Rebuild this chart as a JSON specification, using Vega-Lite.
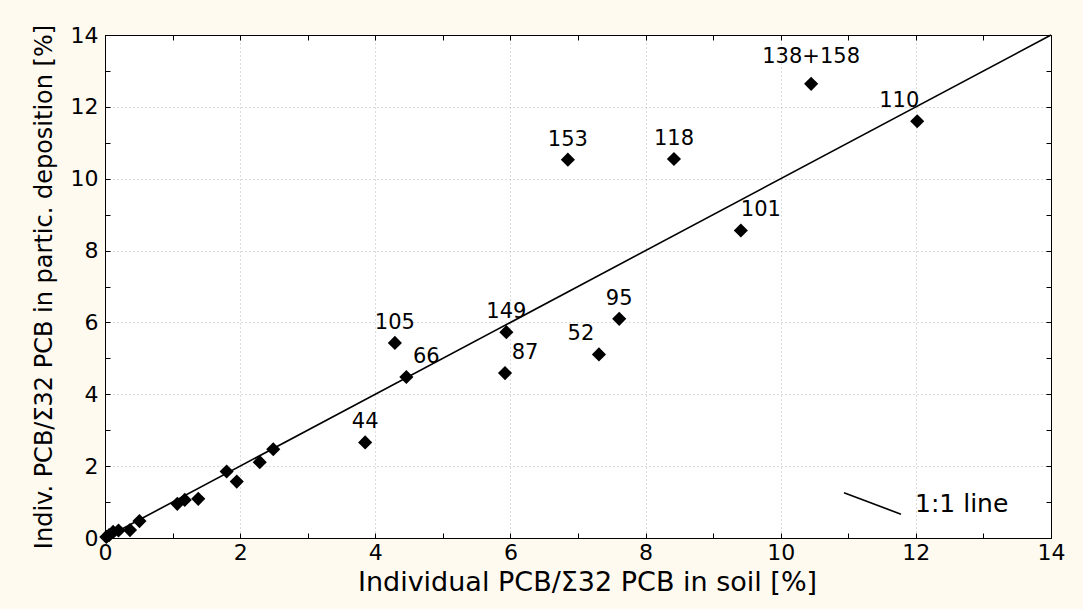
{
  "$schema": "https://vega.github.io/schema/vega-lite/v6.json",
  "width": 946,
  "height": 503,
  "autosize": {"type": "none"},
  "padding": {"left": 105, "top": 35, "right": 32, "bottom": 71},
  "background": "#FFFAF0",
  "config": {
    "view": {"stroke": "black", "strokeWidth": 1, "fill": "white"},
    "font": "DejaVu Sans",
    "axis": {
      "labelFont": "DejaVu Sans",
      "titleFont": "DejaVu Sans",
      "labelColor": "black",
      "titleColor": "black",
      "domainColor": "black",
      "tickColor": "black",
      "titleFontWeight": "normal"
    }
  },
  "datasets": {
    "pts": [
      {"soil": 0.02, "dep": 0.03, "label": "", "pos": "none"},
      {"soil": 0.06, "dep": 0.08, "label": "", "pos": "none"},
      {"soil": 0.12, "dep": 0.17, "label": "", "pos": "none"},
      {"soil": 0.2, "dep": 0.21, "label": "", "pos": "none"},
      {"soil": 0.37, "dep": 0.22, "label": "", "pos": "none"},
      {"soil": 0.51, "dep": 0.47, "label": "", "pos": "none"},
      {"soil": 1.07, "dep": 0.95, "label": "", "pos": "none"},
      {"soil": 1.18, "dep": 1.06, "label": "", "pos": "none"},
      {"soil": 1.38, "dep": 1.09, "label": "", "pos": "none"},
      {"soil": 1.8, "dep": 1.85, "label": "", "pos": "none"},
      {"soil": 1.95, "dep": 1.57, "label": "", "pos": "none"},
      {"soil": 2.29, "dep": 2.11, "label": "", "pos": "none"},
      {"soil": 2.49, "dep": 2.47, "label": "", "pos": "none"},
      {"soil": 3.85, "dep": 2.66, "label": "44", "pos": "above"},
      {"soil": 4.29, "dep": 5.43, "label": "105", "pos": "above"},
      {"soil": 4.46, "dep": 4.48, "label": "66", "pos": "right"},
      {"soil": 5.92, "dep": 4.59, "label": "87", "pos": "right"},
      {"soil": 5.94, "dep": 5.73, "label": "149", "pos": "above"},
      {"soil": 6.85, "dep": 10.53, "label": "153", "pos": "above"},
      {"soil": 7.31, "dep": 5.11, "label": "52", "pos": "left"},
      {"soil": 7.61, "dep": 6.1, "label": "95", "pos": "above"},
      {"soil": 8.42, "dep": 10.55, "label": "118", "pos": "above"},
      {"soil": 9.41, "dep": 8.56, "label": "101", "pos": "right"},
      {"soil": 10.45, "dep": 12.64, "label": "138+158", "pos": "high"},
      {"soil": 12.02, "dep": 11.6, "label": "110", "pos": "left"}
    ]
  },
  "encoding": {
    "x": {"field": "soil", "type": "quantitative", "axis": null, "scale": {"domain": [0, 14], "nice": false, "zero": false}},
    "y": {"field": "dep", "type": "quantitative", "axis": null, "scale": {"domain": [0, 14], "nice": false, "zero": false}}
  },
  "layer": [
    {
      "data": {"name": "pts"},
      "mark": {"type": "point", "shape": "diamond", "filled": true, "size": 200, "color": "black", "opacity": 1},
      "encoding": {
        "x": {
          "field": "soil", "type": "quantitative",
          "scale": {"domain": [0, 14], "nice": false, "zero": false},
          "axis": {
            "orient": "bottom",
            "title": "Individual PCB/Σ32 PCB in soil [%]",
            "titleFontSize": 27,
            "titlePadding": 6,
            "titleX": 482,
            "values": [0,1,2,3,4,5,6,7,8,9,10,11,12,13,14],
            "labelExpr": "datum.value % 2 === 0 ? datum.label : ''",
            "labelFontSize": 22,
            "labelPadding": 9,
            "labelFlush": false,
            "labelOverlap": false,
            "tickSize": -5,
            "grid": true,
            "gridColor": "#b8b8b8",
            "gridDash": [1, 3],
            "gridOpacity": {"condition": {"test": "datum.value % 2 === 0 && datum.value > 0 && datum.value < 14", "value": 1}, "value": 0}
          }
        },
        "y": {
          "field": "dep", "type": "quantitative",
          "scale": {"domain": [0, 14], "nice": false, "zero": false},
          "axis": {
            "orient": "left",
            "title": "Indiv. PCB/Σ32 PCB in partic. deposition [%]",
            "titleFontSize": 24,
            "titlePadding": 14,
            "values": [0,1,2,3,4,5,6,7,8,9,10,11,12,13,14],
            "labelExpr": "datum.value % 2 === 0 ? datum.label : ''",
            "labelFontSize": 22,
            "labelPadding": 12,
            "labelFlush": false,
            "labelOverlap": false,
            "tickSize": -5,
            "grid": true,
            "gridColor": "#b8b8b8",
            "gridDash": [1, 3],
            "gridOpacity": {"condition": {"test": "datum.value % 2 === 0 && datum.value > 0 && datum.value < 14", "value": 1}, "value": 0}
          }
        }
      }
    },
    {
      "data": {"values": [
        {"soil": 0, "dep": 0, "series": "1:1 line"},
        {"soil": 14, "dep": 14, "series": "1:1 line"}
      ]},
      "mark": {"type": "line", "strokeWidth": 1.6},
      "encoding": {
        "x": {
          "field": "soil", "type": "quantitative",
          "scale": {"domain": [0, 14], "nice": false, "zero": false},
          "axis": {"orient": "top", "title": null, "labels": false, "grid": false, "tickSize": -5, "values": [0,1,2,3,4,5,6,7,8,9,10,11,12,13,14]}
        },
        "y": {
          "field": "dep", "type": "quantitative",
          "scale": {"domain": [0, 14], "nice": false, "zero": false},
          "axis": {"orient": "right", "title": null, "labels": false, "grid": false, "tickSize": -5, "values": [0,1,2,3,4,5,6,7,8,9,10,11,12,13,14]}
        },
        "stroke": {
          "field": "series", "type": "nominal",
          "scale": {"range": ["black"]},
          "legend": {
            "title": null,
            "orient": "none",
            "legendX": 738,
            "legendY": 439,
            "padding": 0,
            "symbolType": "M-1,-0.375L1,0.375",
            "symbolSize": 3249,
            "symbolStrokeWidth": 1.6,
            "symbolStrokeColor": "black",
            "labelFontSize": 25,
            "labelFont": "DejaVu Sans",
            "labelColor": "black",
            "labelOffset": 13,
            "labelLimit": 300
          }
        }
      }
    },
    {
      "data": {"name": "pts"},
      "transform": [{"filter": "datum.pos === 'above'"}],
      "mark": {"type": "text", "fontSize": 21, "font": "DejaVu Sans", "color": "black", "baseline": "middle", "align": "center", "dy": -20},
      "encoding": {"text": {"field": "label"}}
    },
    {
      "data": {"name": "pts"},
      "transform": [{"filter": "datum.pos === 'right'"}],
      "mark": {"type": "text", "fontSize": 21, "font": "DejaVu Sans", "color": "black", "baseline": "middle", "align": "center", "dx": 20, "dy": -20},
      "encoding": {"text": {"field": "label"}}
    },
    {
      "data": {"name": "pts"},
      "transform": [{"filter": "datum.pos === 'left'"}],
      "mark": {"type": "text", "fontSize": 21, "font": "DejaVu Sans", "color": "black", "baseline": "middle", "align": "center", "dx": -18, "dy": -20},
      "encoding": {"text": {"field": "label"}}
    },
    {
      "data": {"name": "pts"},
      "transform": [{"filter": "datum.pos === 'high'"}],
      "mark": {"type": "text", "fontSize": 21, "font": "DejaVu Sans", "color": "black", "baseline": "middle", "align": "center", "dy": -27},
      "encoding": {"text": {"field": "label"}}
    }
  ],
  "resolve": {"axis": {"x": "independent", "y": "independent"}}
}
